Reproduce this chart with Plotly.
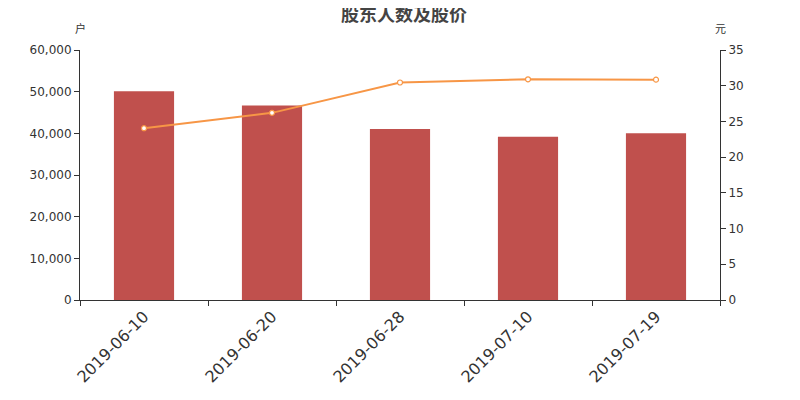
import plotly.graph_objects as go

dates = ["2019-06-10", "2019-06-20", "2019-06-28", "2019-07-10", "2019-07-19"]
holders = [50100, 46700, 41050, 39200, 40000]
prices = [24.05, 26.2, 30.45, 30.9, 30.85]

CJK = "Noto Sans CJK SC, sans-serif"
LAT = "DejaVu Sans, sans-serif"
AX = "#333333"

fig = go.Figure()
fig.add_trace(go.Bar(x=dates, y=holders, marker=dict(color="#c0504d", line=dict(width=0)),
                     width=0.47, name="股东人数", yaxis="y"))
fig.add_trace(go.Scatter(x=dates, y=prices, mode="lines+markers", name="股价", yaxis="y2",
                         line=dict(color="#f79646", width=2),
                         marker=dict(size=5, color="white", line=dict(color="#f79646", width=1.2))))

fig.update_layout(
    width=792, height=392,
    margin=dict(l=72, r=80, t=42, b=100, autoexpand=False),
    paper_bgcolor="white", plot_bgcolor="white",
    showlegend=False,
    font=dict(family=LAT, color=AX),
    title=dict(text="<b>股东人数及股价</b>", x=0.5, xanchor="center", y=1.0, yanchor="top",
               font=dict(size=18, color="#444444", family=CJK)),
    xaxis=dict(type="category", tickson="boundaries", ticks="outside", ticklen=5,
               tickcolor=AX, showline=True, linecolor=AX, linewidth=1,
               tickangle=-45, tickfont=dict(size=16, color=AX, family=LAT), showgrid=False),
    yaxis=dict(range=[0, 60000], tickvals=[0, 10000, 20000, 30000, 40000, 50000, 60000],
               tickformat=",", ticks="outside", ticklen=5, tickcolor=AX,
               showline=True, linecolor=AX, linewidth=1, showgrid=False, zeroline=False,
               tickfont=dict(size=12, color=AX, family=LAT)),
    yaxis2=dict(range=[0, 35], tickvals=[0, 5, 10, 15, 20, 25, 30, 35], overlaying="y",
                side="right", ticks="outside", ticklen=5, tickcolor=AX,
                showline=True, linecolor=AX, linewidth=1, showgrid=False, zeroline=False,
                tickfont=dict(size=12, color=AX, family=LAT)),
    annotations=[
        dict(text="户", xref="paper", yref="paper", x=0, y=1.088, xanchor="center",
             yanchor="middle", showarrow=False, font=dict(size=11, color=AX, family=CJK)),
        dict(text="元", xref="paper", yref="paper", x=1, y=1.088, xanchor="center",
             yanchor="middle", showarrow=False, font=dict(size=11, color=AX, family=CJK)),
    ],
)

fig.write_html("out.html")
